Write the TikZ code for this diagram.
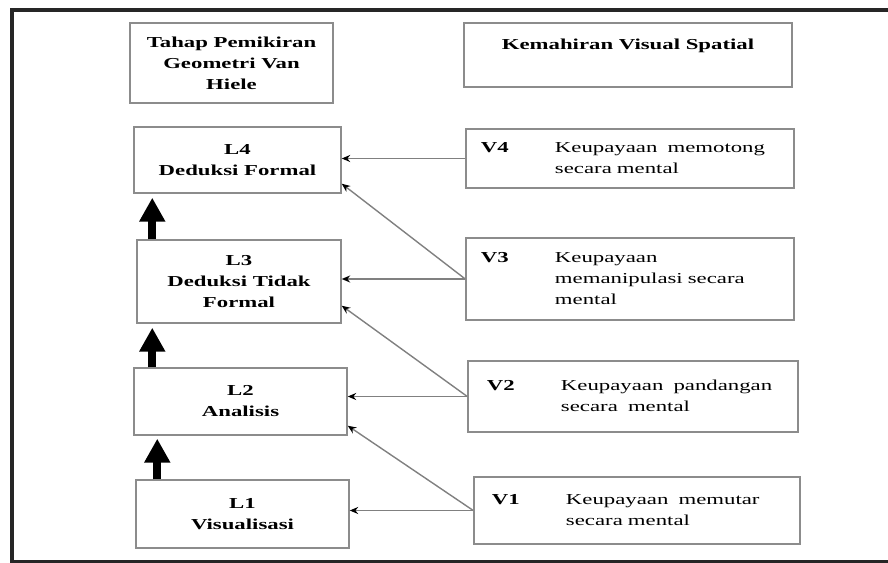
\documentclass[tikz,border=0pt]{standalone}
\usepackage{fontspec}
\setmainfont{Liberation Serif}[FakeStretch=1.5]
\usetikzlibrary{arrows.meta,calc}
\definecolor{BoxClr}{rgb}{0.55,0.55,0.55}
\definecolor{LinkClr}{rgb}{0.5,0.5,0.5}
\definecolor{FrameClr}{rgb}{0.15,0.15,0.15}
\newcommand{\vrow}[2]{\begin{tabular}{@{}p{1.85cm}@{}l@{}}\textbf{#1} & #2\end{tabular}}

\begin{document}
\begin{tikzpicture}[x=0.025cm,y=-0.025cm,
  font=\fontsize{10.8}{14.9}\selectfont,
  box/.style={draw=BoxClr,line width=1pt,inner sep=0pt,align=center},
  lvl/.style={box,font=\fontsize{10.8}{14.9}\selectfont\bfseries},
  skill/.style={box,align=left},
  link/.style={draw=LinkClr,line width=1pt,-{Stealth[length=6pt,width=5pt,black]}},
  upstep/.style={line width=5.5pt,-{Triangle[length=17pt,width=17.5pt]}}]
\useasboundingbox (0,0) rectangle (888,563);
\draw[FrameClr,line width=2.8pt] (12,10) rectangle (900,562);

\node[lvl,minimum width=5.075cm,minimum height=2cm] (hdrL) at (231.5,63) {Tahap Pemikiran\\Geometri Van\\Hiele};
\node[lvl,minimum width=8.2cm,minimum height=1.6cm] (hdrR) at (628,55) {Kemahiran Visual Spatial\\\mbox{}};

\node[lvl,minimum width=5.175cm,minimum height=1.65cm] (l4) at (237.5,160) {L4\\Deduksi Formal};
\node[lvl,minimum width=5.1cm,minimum height=2.075cm] (l3) at (239,281.5) {L3\\Deduksi Tidak\\Formal};
\node[lvl,minimum width=5.325cm,minimum height=1.675cm] (l2) at (240.5,401.5) {L2\\Analisis};
\node[lvl,minimum width=5.325cm,minimum height=1.7cm] (l1) at (242.5,514) {L1\\Visualisasi};

\node[skill,inner xsep=0.375cm,text width=7.45cm,minimum height=1.475cm] (v4) at (630,158.5) {\vrow{V4}{Keupayaan\ \ memotong\\ & secara mental}};
\node[skill,inner xsep=0.375cm,text width=7.45cm,minimum height=2.05cm] (v3) at (630,279) {\vrow{V3}{Keupayaan\\ & memanipulasi secara\\ & mental}};
\node[skill,inner xsep=0.475cm,text width=7.3cm,minimum height=1.775cm] (v2) at (633,396.5) {\vrow{V2}{Keupayaan\ \ pandangan\\ & secara\ \ mental}};
\node[skill,inner xsep=0.45cm,text width=7.25cm,minimum height=1.675cm] (v1) at (637,510.5) {\vrow{V1}{Keupayaan\ \ memutar\\ & secara mental}};

\draw[link] (v4.west) -- (v4.west -| l4.east);
\draw[link] (v3.west) -- (v3.west -| l3.east);
\draw[link] (v3.west) -- ([yshift=0.25cm]l4.south east);
\draw[link] (v2.west) -- (v2.west -| l2.east);
\draw[link] (v2.west) -- ([yshift=0.45cm]l3.south east);
\draw[link] (v1.west) -- (v1.west -| l1.east);
\draw[link] (v1.west) -- ([yshift=0.25cm]l2.south east);

\coordinate (u3) at ($(l3.north west)+(16,0)$);
\coordinate (u2) at ($(l2.north west)+(19,0)$);
\coordinate (u1) at ($(l1.north west)+(22,0)$);
\draw[upstep] (u3) -- ($(u3 |- l4.south)+(0,4)$);
\draw[upstep] (u2) -- ($(u2 |- l3.south)+(0,4)$);
\draw[upstep] (u1) -- ($(u1 |- l2.south)+(0,3)$);

\end{tikzpicture}
\end{document}
